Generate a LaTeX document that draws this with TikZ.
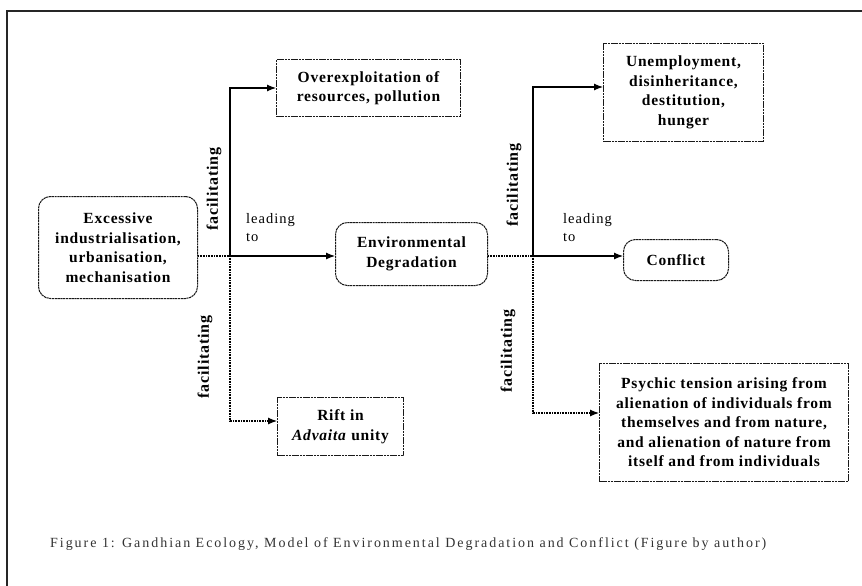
\documentclass[tikz,border=0pt]{standalone}
\usepackage{fontspec}
\setmainfont{Liberation Serif}
\newfontfamily\boxfont[LetterSpace=5]{Liberation Serif}
\newfontfamily\leadfont[LetterSpace=7]{Liberation Serif}
\newfontfamily\capfont[LetterSpace=14]{Liberation Serif}
\usetikzlibrary{arrows.meta}
\tikzset{
  basebox/.style={draw=black!90, line width=1pt, dash pattern=on 2.2pt off 0.6pt, fill=white, align=center,
    font=\boxfont\fontsize{15.5}{19.5}\selectfont\bfseries, inner sep=0pt, anchor=north west},
  rbox/.style={basebox, rounded corners=12pt},
  sbox/.style={basebox},
  conn/.style={line width=1.1pt, -{Latex[length=9pt,width=7pt]}},
  dotline/.style={line width=1.1pt, dash pattern=on 1pt off 0.6pt},
  lab/.style={font=\boxfont\fontsize{16}{18}\selectfont\bfseries, rotate=90, inner sep=0pt},
  lead/.style={font=\leadfont\fontsize{14.5}{18}\selectfont, align=left, inner sep=0pt, anchor=north west},
}
\begin{document}
\begin{tikzpicture}[x=1pt,y=-1pt]
\useasboundingbox (0,0) rectangle (862,586);
% outer frame
\draw[line width=2.5pt, black!85] (7,586) -- (7,11) -- (862,11);
% boxes
\node[rbox, minimum width=159pt, minimum height=102pt] (exc) at (38,196) {Excessive\\industrialisation,\\urbanisation,\\mechanisation};
\node[sbox, minimum width=184pt, minimum height=57pt] (over) at (276,59) {Overexploitation of\\resources, pollution};
\node[rbox, minimum width=152pt, minimum height=63pt] (env) at (335,222) {Environmental\\Degradation};
\node[sbox, minimum width=160pt, minimum height=98pt] (unemp) at (603,43) {Unemployment,\\disinheritance,\\destitution,\\hunger};
\node[rbox, minimum width=105pt, minimum height=41pt] (conf) at (623,239) {Conflict};
\node[sbox, minimum width=249pt, minimum height=118pt] (psy) at (599,363) {Psychic tension arising from\\alienation of individuals from\\themselves and from nature,\\and alienation of nature from\\itself and from individuals};
\node[sbox, minimum width=126pt, minimum height=58pt] (rift) at (277,397) {Rift in\\\textit{Advaita} unity};
% junction coordinates
\coordinate (j1) at (230,256);
\coordinate (j2) at (533,256);
% left connectors
\draw[dotline] (exc.east |- j1) -- (j1);
\draw[conn] (j1) -- (env.west |- j1);
\draw[conn] (j1) |- (over.west |- 0,88);
\draw[conn, dash pattern=on 1pt off 0.6pt] (j1) |- (rift.west |- 0,421);
% right connectors
\draw[dotline] (env.east |- j2) -- (j2);
\draw[conn] (j2) -- (conf.west |- j2);
\draw[conn] (j2) |- (unemp.west |- 0,87);
\draw[conn, dash pattern=on 1pt off 0.6pt] (j2) |- (psy.west |- 0,413);
% labels
\node[lab] (f1) at (214,189) {facilitating};
\node[lab] (f2) at (205,357) {facilitating};
\node[lab] (f3) at (514,185) {facilitating};
\node[lab] (f4) at (508,351) {facilitating};
\node[lead] (l1) at (246,213) {leading\\to};
\node[lead] (l2) at (563,213) {leading\\to};
% caption
\node[font=\capfont\fontsize{14}{16}\selectfont, text=black!80, anchor=west, inner sep=0pt] (cap) at (50,544) {Figure 1: Gandhian Ecology, Model of Environmental Degradation and Conflict (Figure by author)};
\end{tikzpicture}
\end{document}
